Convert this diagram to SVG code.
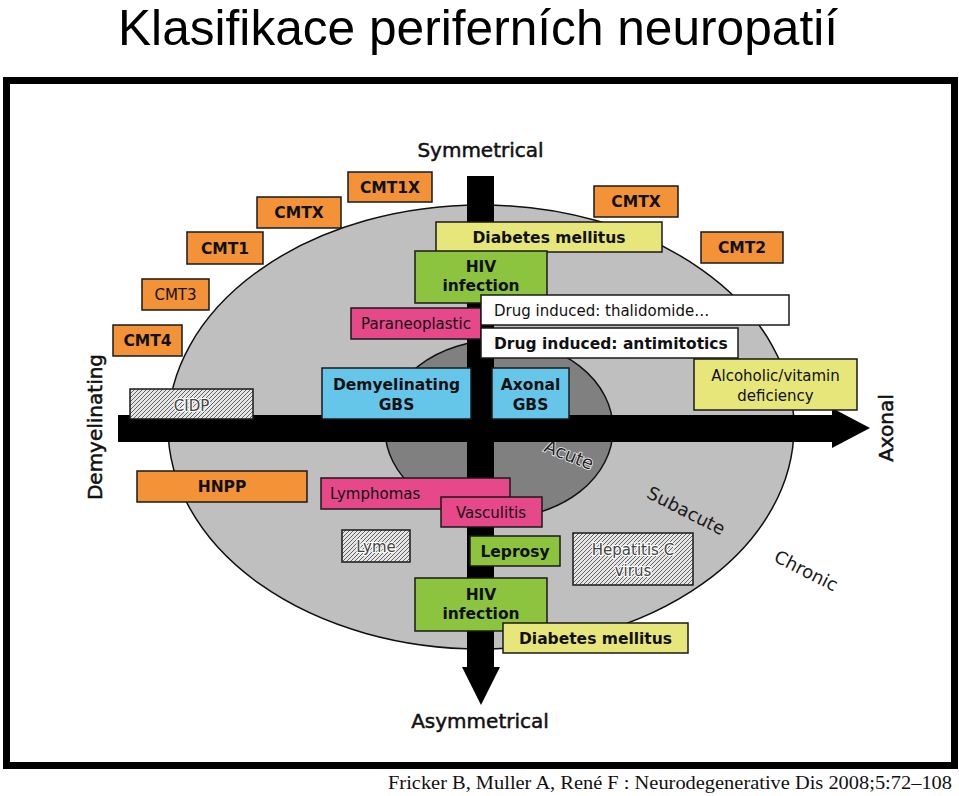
<svg xmlns="http://www.w3.org/2000/svg" width="959" height="796" viewBox="0 0 959 796">
<defs>
<pattern id="hatch" patternUnits="userSpaceOnUse" width="4" height="4">
<rect width="4" height="4" fill="#e6e6e6"/>
<path d="M-1,1 l2,-2 M0,4 l4,-4 M3,5 l2,-2" stroke="#555" stroke-width="0.9"/>
</pattern>
</defs>
<style>
.bx{stroke:#1a1a1a;stroke-width:1.5}
.or{fill:#F39237}
.ye{fill:#E6E67A}
.gr{fill:#8CC43F}
.pk{fill:#E6488A}
.wh{fill:#ffffff}
.bl{fill:#66C6EA}
.ht{fill:url(#hatch)}
.t{font-family:"DejaVu Sans",Verdana,sans-serif;font-size:15.5px;fill:#111;text-anchor:middle}
.b{font-weight:bold}
.n{font-size:15px}
.hl{fill:#444;stroke:#fff;stroke-width:2.2px;paint-order:stroke;font-size:15px}
.ax{font-family:"DejaVu Sans",Verdana,sans-serif;font-size:20px;fill:#111;stroke:#111;stroke-width:0.5px;text-anchor:middle}
.zn{font-family:"DejaVu Sans",Verdana,sans-serif;font-size:18px;fill:#1a1a1a;text-anchor:middle}
</style>
<rect width="959" height="796" fill="#ffffff"/>
<text x="478" y="45" font-family="'Liberation Sans',Arial,sans-serif" font-size="50" fill="#000" textLength="720" lengthAdjust="spacingAndGlyphs" text-anchor="middle">Klasifikace periferních neuropatií</text>
<rect x="6.5" y="80.5" width="948" height="685" fill="none" stroke="#000" stroke-width="7"/>
<g id="zones">
<ellipse cx="481" cy="427" rx="313" ry="222" fill="#BFBFBF" stroke="#111" stroke-width="1.5"/>
<ellipse cx="499" cy="429" rx="114" ry="89" fill="#808080" stroke="#111" stroke-width="1.5"/>
<text class="zn" style="fill:#222;stroke:#eee;stroke-width:1.6px;paint-order:stroke" transform="translate(569,455) rotate(22)" y="6">Acute</text>
<text class="zn" transform="translate(686,511) rotate(27)" y="6">Subacute</text>
<text class="zn" transform="translate(806,571) rotate(27)" y="6">Chronic</text>
</g>
<g id="axes">
<rect x="118" y="415" width="715" height="27" fill="#000"/>
<polygon points="832,408 870,428 832,448" fill="#000"/>
<rect x="467" y="176" width="27" height="492" fill="#000"/>
<polygon points="462,667 500,667 481,705" fill="#000"/>
<text class="ax" x="480.5" y="157">Symmetrical</text>
<text class="ax" x="480" y="728">Asymmetrical</text>
<text class="ax" transform="translate(102,427) rotate(-90)">Demyelinating</text>
<text class="ax" transform="translate(893,428) rotate(-90)">Axonal</text>
</g>
<g id="cmt1x"><rect class="bx or" x="348" y="172" width="84" height="30"/><text class="t b" x="390" y="193">CMT1X</text></g>
<g id="cmtx-left"><rect class="bx or" x="257" y="197" width="84" height="31"/><text class="t b" x="299" y="218">CMTX</text></g>
<g id="cmt1"><rect class="bx or" x="187" y="232" width="76" height="32"/><text class="t b" x="225" y="254">CMT1</text></g>
<g id="cmt3"><rect class="bx or" x="142" y="279" width="67" height="31"/><text class="t n" x="175.5" y="300">CMT3</text></g>
<g id="cmt4"><rect class="bx or" x="113" y="325" width="69" height="31"/><text class="t b" x="147.5" y="346">CMT4</text></g>
<g id="cmtx-right"><rect class="bx or" x="594" y="186" width="84" height="31"/><text class="t b" x="636" y="207">CMTX</text></g>
<g id="cmt2"><rect class="bx or" x="701" y="232" width="82" height="31"/><text class="t b" x="742" y="253">CMT2</text></g>
<g id="hnpp"><rect class="bx or" x="137" y="471" width="170" height="31"/><text class="t b" x="222" y="492">HNPP</text></g>
<g id="diabetes-top"><rect class="bx ye" x="436" y="222" width="226" height="30"/><text class="t b" x="549" y="243">Diabetes mellitus</text></g>
<g id="hiv-top"><rect class="bx gr" x="415" y="251" width="132" height="52"/><text class="t b" x="481" y="272">HIV</text><text class="t b" x="481" y="291">infection</text></g>
<g id="paraneoplastic"><rect class="bx pk" x="351" y="308" width="130" height="31"/><text class="t n" x="416" y="329">Paraneoplastic</text></g>
<g id="drug-thalidomide"><rect class="bx wh" x="481" y="295" width="308" height="30"/><text class="t n" x="494" y="316" style="text-anchor:start">Drug induced: thalidomide…</text></g>
<g id="drug-antimitotics"><rect class="bx wh" x="481" y="328" width="257" height="30"/><text class="t b" x="494" y="349" style="text-anchor:start">Drug induced: antimitotics</text></g>
<g id="alcoholic"><rect class="bx ye" x="694" y="359" width="163" height="51"/><text class="t n" x="775.5" y="381">Alcoholic/vitamin</text><text class="t n" x="775.5" y="401">deficiency</text></g>
<g id="cidp"><rect class="bx ht" x="130" y="389" width="123" height="30"/><text class="t hl" x="191.5" y="411">CIDP</text></g>
<g id="demyelinating-gbs"><rect class="bx bl" x="322" y="368" width="149" height="51"/><text class="t b" x="396.5" y="390">Demyelinating</text><text class="t b" x="396.5" y="410">GBS</text></g>
<g id="axonal-gbs"><rect class="bx bl" x="492" y="368" width="77" height="51"/><text class="t b" x="530.5" y="390">Axonal</text><text class="t b" x="530.5" y="410">GBS</text></g>
<g id="lymphomas"><rect class="bx pk" x="321" y="478" width="189" height="31"/><text class="t n" x="330" y="499" style="text-anchor:start">Lymphomas</text></g>
<g id="vasculitis"><rect class="bx pk" x="441" y="497" width="101" height="30"/><text class="t n" x="491" y="518">Vasculitis</text></g>
<g id="lyme"><rect class="bx ht" x="342" y="530" width="68" height="32"/><text class="t hl" x="376" y="552">Lyme</text></g>
<g id="leprosy"><rect class="bx gr" x="470" y="536" width="90" height="30"/><text class="t b" x="515" y="557">Leprosy</text></g>
<g id="hepatitis"><rect class="bx ht" x="573" y="533" width="120" height="52"/><text class="t hl" x="633" y="555">Hepatitis C</text><text class="t hl" x="633" y="576">virus</text></g>
<g id="hiv-bottom"><rect class="bx gr" x="415" y="578" width="132" height="53"/><text class="t b" x="481" y="600">HIV</text><text class="t b" x="481" y="619">infection</text></g>
<g id="diabetes-bottom"><rect class="bx ye" x="503" y="623" width="185" height="30"/><text class="t b" x="595.5" y="644">Diabetes mellitus</text></g>
<text x="388" y="789" font-family="'Liberation Serif','Times New Roman',serif" font-size="19" fill="#111" textLength="564" lengthAdjust="spacingAndGlyphs">Fricker B, Muller A, René F : Neurodegenerative Dis 2008;5:72–108</text>
</svg>
